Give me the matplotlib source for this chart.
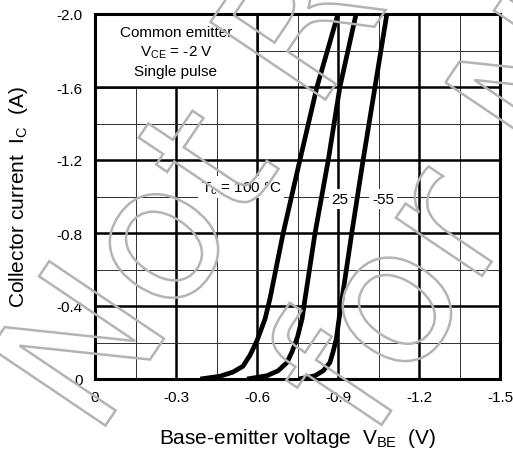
import matplotlib
matplotlib.use("Agg")
import matplotlib.pyplot as plt
from matplotlib.patches import Rectangle, PathPatch
from matplotlib.textpath import TextPath
from matplotlib.font_manager import FontProperties
from matplotlib.transforms import Affine2D

plt.rcParams['font.family'] = ['Liberation Sans', 'DejaVu Sans']

# VBE (V) / IC (A)
vbe_100 = [-0.39, -0.463, -0.511, -0.548, -0.574, -0.60, -0.630, -0.648, -0.697, -0.759, -0.822, -0.90]
ic_100 = [0.0, -0.015, -0.038, -0.07, -0.13, -0.21, -0.33, -0.44, -0.80, -1.20, -1.60, -2.00]

vbe_25 = [-0.563, -0.637, -0.678, -0.711, -0.730, -0.750, -0.767, -0.778, -0.815, -0.864, -0.907, -0.967]
ic_25 = [0.0, -0.018, -0.045, -0.09, -0.15, -0.23, -0.33, -0.44, -0.80, -1.20, -1.60, -2.00]

vbe_m55 = [-0.755, -0.815, -0.845, -0.870, -0.882, -0.894, -0.902, -0.915, -0.951, -0.993, -1.037, -1.081]
ic_m55 = [0.0, -0.018, -0.045, -0.09, -0.15, -0.22, -0.31, -0.44, -0.80, -1.20, -1.60, -2.00]

x_ticks = [0, -0.3, -0.6, -0.9, -1.2, -1.5]
x_labels = ['0', '-0.3', '-0.6', '-0.9', '-1.2', '-1.5']
y_ticks = [0, -0.4, -0.8, -1.2, -1.6, -2.0]
y_labels = ['0', '-0.4', '-0.8', '-1.2', '-1.6', '-2.0']

fig = plt.figure(figsize=(5.13, 4.52), dpi=100)
ax = fig.add_axes([95 / 513, 72 / 452, 405 / 513, 365 / 452])

ax.set_xlim(0, -1.5)
ax.set_ylim(0, -2.0)
ax.set_xticks(x_ticks)
ax.set_xticklabels(x_labels)
ax.set_yticks(y_ticks)
ax.set_yticklabels(y_labels)
ax.set_xticks([-0.15, -0.45, -0.75, -1.05, -1.35], minor=True)
ax.set_yticks([-0.2, -0.6, -1.0, -1.4, -1.8], minor=True)
ax.tick_params(which='both', length=0)
ax.tick_params(axis='x', pad=8, labelsize=11)
ax.tick_params(axis='y', pad=9, labelsize=11)

ax.set_axisbelow(True)
ax.grid(which='major', color='black', lw=1.8)
ax.grid(which='minor', color='#303030', lw=0.7)
for s in ax.spines.values():
    s.set_linewidth(2.2)
    s.set_zorder(5)

# box for the test conditions
ax.add_patch(Rectangle((0, -1.6), -0.6, -0.4, fc='white', ec='black', lw=1.8, zorder=1))
ax.text(-0.3, -1.90, 'Common emitter', ha='center', va='center', fontsize=11, zorder=6)
ax.text(-0.3, -1.795, r'V$_\mathregular{CE}$ = -2 V', ha='center', va='center', fontsize=11, zorder=6)
ax.text(-0.3, -1.69, 'Single pulse', ha='center', va='center', fontsize=11, zorder=6)

# watermark
fp = FontProperties(family='DejaVu Sans')
for txt, x0, y0 in [('Not Recommended', 95, 10), ('for New Design', 370, 9)]:
    tp = TextPath((0, 0), txt, size=190, prop=fp)
    tr = Affine2D().rotate_deg(56).translate(x0, y0)
    fig.add_artist(PathPatch(tp, transform=tr, fc='none', ec='#b4b4b4', lw=1.8, zorder=3))

for vx, iy in [(vbe_100, ic_100), (vbe_25, ic_25), (vbe_m55, ic_m55)]:
    ax.plot(vx, iy, color='black', lw=3.4, solid_capstyle='butt', solid_joinstyle='round', zorder=4)

bb = dict(fc='white', ec='none', pad=2)
ax.text(-0.541, -1.05, r'T$_\mathregular{c}$ = 100 °C', ha='center', va='center', fontsize=11, bbox=bb, zorder=6)
ax.text(-0.907, -0.985, '25', ha='center', va='center', fontsize=11, bbox=bb, zorder=6)
ax.text(-1.067, -0.985, '-55', ha='center', va='center', fontsize=11, bbox=bb, zorder=6)

ax.set_xlabel(r'Base-emitter voltage  V$_\mathregular{BE}$  (V)', fontsize=15)
ax.set_ylabel(r'Collector current  I$_\mathregular{C}$  (A)', fontsize=15)
ax.xaxis.set_label_coords(0.5, -0.16)
ax.yaxis.set_label_coords(-0.19, 0.5)
ax.xaxis.label.set_va('center')
ax.yaxis.label.set_va('center')

fig.savefig('out.png', dpi=100)
